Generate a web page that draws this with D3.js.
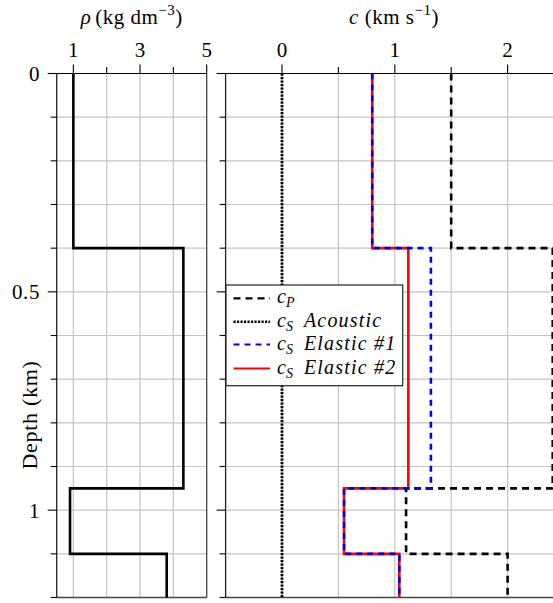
<!DOCTYPE html>
<html><head><meta charset="utf-8">
<script src="https://cdn.jsdelivr.net/npm/d3@7"></script>
<style>
body{margin:0;background:#fff;}
svg{display:block;}
</style></head>
<body><svg id="c" width="553" height="603"></svg>
<script>
// ---- data ----
const depthBreaks = [0, 0.4, 0.95, 1.1, 1.2];      // km, layer boundaries
const rho        = [1.0, 4.3, 0.9, 3.8];           // kg dm^-3
const cP         = [1.5, 2.4, 1.1, 2.0];           // km/s
const cSAcoustic = [0, 0, 0, 0];
const cSElastic1 = [0.8, 1.32, 0.55, 1.04];
const cSElastic2 = [0.8, 1.12, 0.55, 1.04];
const rhoTicks   = [1, 3, 5];
const rhoMinor   = [2, 4];
const cTicks     = [0, 1, 2];
const cMinor     = [0.5, 1.5];
const depthTicks = [0, 0.5, 1];
const depthMinor = [0.1,0.2,0.3,0.4,0.6,0.7,0.8,0.9,1.1,1.2];
const depthLabels = ["0","0.5","1"];

const svg = d3.select("#c");
const y = d3.scaleLinear().domain([0, 1.2]).range([73.5, 597.5]);
const xL = d3.scaleLinear().domain([0.5, 5]).range([56.7, 206.7]);
const xR = d3.scaleLinear().domain([-0.5, 2.5]).range([225.6, 564]);
const FS = 21;

function steps(vals){
  const pts = [];
  vals.forEach((v,i)=>{ pts.push([v, depthBreaks[i]]); pts.push([v, depthBreaks[i+1]]); });
  return pts;
}

function panel(x, xMajor, xMinor, gridX){
  const [x0,x1] = x.range();
  const [y0,y1] = y.range();
  const g = svg.append("g");
  const gridY = depthMinor.concat(depthTicks).filter(d=>d>0 && d<1.2);
  g.selectAll(".gx").data(gridX).join("line")
    .attr("x1",d=>x(d)).attr("x2",d=>x(d)).attr("y1",y0).attr("y2",y1)
    .attr("stroke","#c4c4c4").attr("stroke-width",1.2);
  g.selectAll(".gy").data(gridY).join("line")
    .attr("x1",x0).attr("x2",Math.min(x1,553)).attr("y1",d=>y(d)).attr("y2",d=>y(d))
    .attr("stroke","#c4c4c4").attr("stroke-width",1.2);
  g.append("line").attr("x1",x1).attr("x2",x1).attr("y1",y0).attr("y2",y1).attr("stroke","#444").attr("stroke-width",1.3);
  g.append("line").attr("x1",x0).attr("x2",x1).attr("y1",y1).attr("y2",y1).attr("stroke","#444").attr("stroke-width",1.3);
  g.append("line").attr("x1",x0).attr("x2",x0).attr("y1",y0).attr("y2",y1).attr("stroke","#222").attr("stroke-width",1.3);
  g.append("line").attr("x1",x0).attr("x2",x1).attr("y1",y0).attr("y2",y0).attr("stroke","#000").attr("stroke-width",1.2);
  g.selectAll(".ty").data(depthTicks).join("line")
    .attr("x1",x0-9).attr("x2",x0).attr("y1",d=>y(d)).attr("y2",d=>y(d)).attr("stroke","#000").attr("stroke-width",1.1);
  g.selectAll(".tym").data(depthMinor).join("line")
    .attr("x1",x0-6).attr("x2",x0).attr("y1",d=>y(d)).attr("y2",d=>y(d)).attr("stroke","#000").attr("stroke-width",1.1);
  g.selectAll(".tx").data(xMajor).join("line")
    .attr("x1",d=>x(d)).attr("x2",d=>x(d)).attr("y1",y0-9).attr("y2",y0).attr("stroke","#000").attr("stroke-width",1.1);
  g.selectAll(".txm").data(xMinor).join("line")
    .attr("x1",d=>x(d)).attr("x2",d=>x(d)).attr("y1",y0-6.5).attr("y2",y0).attr("stroke","#000").attr("stroke-width",1.1);
  g.selectAll(".tl").data(xMajor).join("text")
    .attr("x",d=>x(d)).attr("y",y0-16.5).attr("text-anchor","middle").attr("font-size",FS).text(d=>d3.format("d")(d));
  return g;
}

panel(xL, rhoTicks, rhoMinor, [1,2,3,4]);
panel(xR, cTicks, cMinor, [0,0.5,1,1.5,2]);

svg.selectAll(".dl").data(depthTicks).join("text")
  .attr("x",40).attr("y",d=>y(d)+7.5).attr("text-anchor","end").attr("font-size",FS)
  .attr("letter-spacing",0.6).text((d,i)=>depthLabels[i]);

const t1 = svg.append("text").attr("x",131.7).attr("y",24).attr("text-anchor","middle").attr("font-size",FS).attr("letter-spacing",0.5);
t1.append("tspan").attr("font-style","italic").text("ρ");
t1.append("tspan").attr("dx",4).text("(kg dm");
t1.append("tspan").attr("font-size",15).attr("dy",-9).text("−3");
t1.append("tspan").attr("dy",9).text(")");
const t2 = svg.append("text").attr("x",394).attr("y",24).attr("text-anchor","middle").attr("font-size",FS).attr("letter-spacing",0.5);
t2.append("tspan").attr("font-style","italic").text("c");
t2.append("tspan").attr("dx",6).text("(km s");
t2.append("tspan").attr("font-size",15).attr("dy",-9).text("−1");
t2.append("tspan").attr("dy",9).text(")");

svg.append("text").attr("transform","translate(37,415) rotate(-90)").attr("text-anchor","middle")
  .attr("font-size",22).attr("letter-spacing",0.7).text("Depth (km)");

const lineL = d3.line().x(d=>xL(d[0])).y(d=>y(d[1]));
const lineR = d3.line().x(d=>xR(d[0])).y(d=>y(d[1]));
svg.append("defs").append("clipPath").attr("id","clipR").append("rect")
  .attr("x",xR.range()[0]).attr("y",y.range()[0]-2).attr("width",xR.range()[1]-xR.range()[0]).attr("height",y.range()[1]-y.range()[0]+2);

svg.append("path").attr("d",lineL(steps(rho))).attr("fill","none").attr("stroke","#000").attr("stroke-width",2.6);

const series = [
  {vals:cP, color:"#000", dash:"7,5", w:2.6, label:"P", extra:""},
  {vals:cSAcoustic, color:"#000", dash:"2.2,1.3", w:2.8, label:"S", extra:"Acoustic"},
  {vals:cSElastic2, color:"#ff0000", dash:null, w:2.6, label:"S", extra:"Elastic #2"},
  {vals:cSElastic1, color:"#0000ff", dash:"6,5", w:2.6, label:"S", extra:"Elastic #1"}
];
const gData = svg.append("g").attr("clip-path","url(#clipR)");
series.forEach(s=>{
  gData.append("path").attr("d",lineR(steps(s.vals))).attr("fill","none")
    .attr("stroke",s.color).attr("stroke-width",s.w).attr("stroke-dasharray",s.dash);
});

const legendOrder = [series[0], series[1], series[3], series[2]];
const lg = svg.append("g");
lg.append("rect").attr("x",226).attr("y",285).attr("width",176.7).attr("height",100.7)
  .attr("fill","#fff").attr("stroke","#222").attr("stroke-width",1.2);
const rowY = [298.3, 321.7, 344.5, 368.5];
legendOrder.forEach((s,i)=>{
  lg.append("line").attr("x1",233.5).attr("x2",270).attr("y1",rowY[i]).attr("y2",rowY[i])
    .attr("stroke",s.color).attr("stroke-width",s.w-0.4).attr("stroke-dasharray",s.dash);
  const t = lg.append("text").attr("x",277).attr("y",rowY[i]+5).attr("font-size",20).attr("font-style","italic");
  t.append("tspan").text("c");
  t.append("tspan").attr("font-size",14).attr("dy",4).text(s.label);
  if(s.extra){ t.append("tspan").attr("dy",-4).attr("dx",11).attr("letter-spacing",1.2).text(s.extra); }
});

svg.selectAll("text").attr("font-family","Liberation Serif");
</script></body></html>
